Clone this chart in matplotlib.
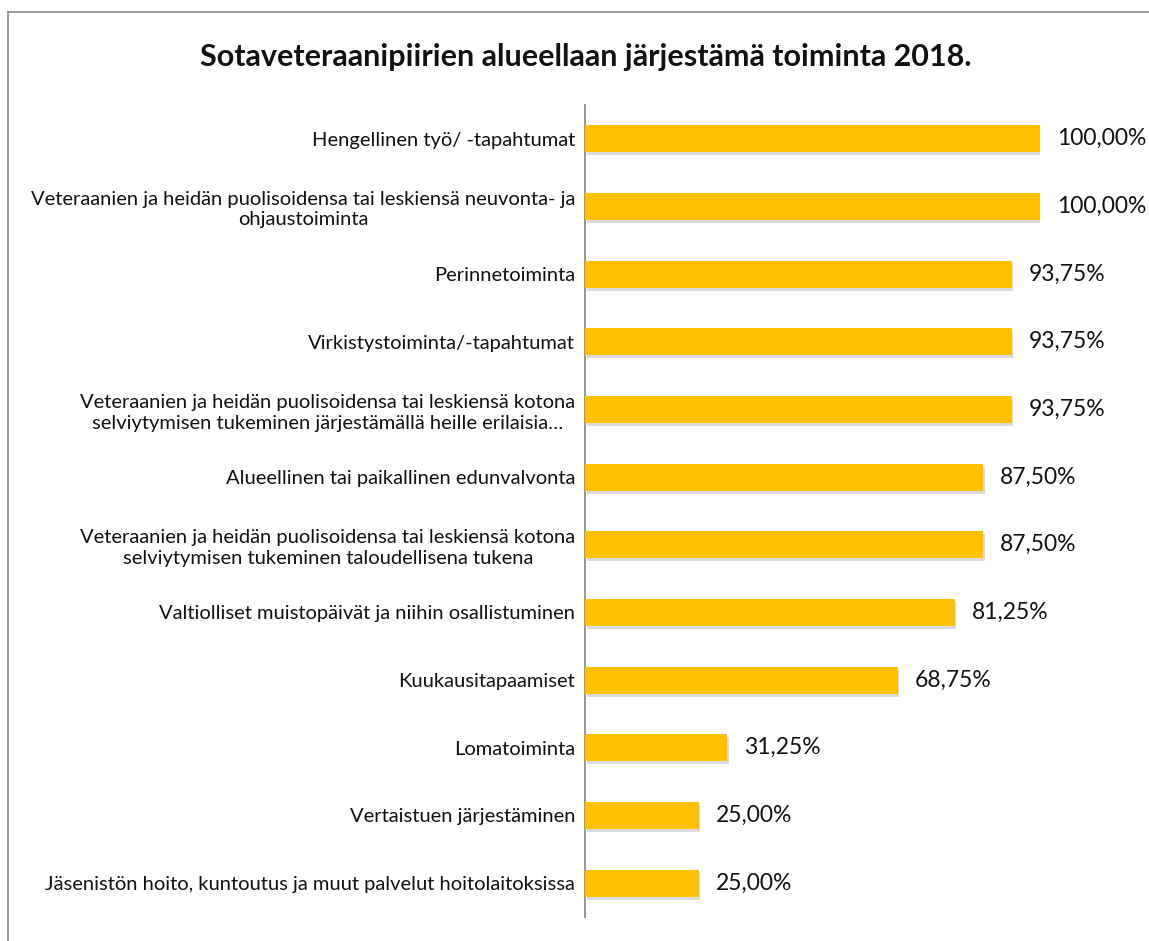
import matplotlib

matplotlib.use("Agg")
import matplotlib.pyplot as plt
import matplotlib.patheffects as pe
from matplotlib.lines import Line2D

plt.rcParams["font.family"] = ["Lato", "DejaVu Sans"]

CATEGORIES = [
    "Hengellinen työ/ -tapahtumat",
    "Veteraanien ja heidän puolisoidensa tai leskiensä neuvonta- ja\nohjaustoiminta",
    "Perinnetoiminta",
    "Virkistystoiminta/-tapahtumat",
    "Veteraanien ja heidän puolisoidensa tai leskiensä kotona\nselviytymisen tukeminen järjestämällä heille erilaisia…",
    "Alueellinen tai paikallinen edunvalvonta",
    "Veteraanien ja heidän puolisoidensa tai leskiensä kotona\nselviytymisen tukeminen taloudellisena tukena",
    "Valtiolliset muistopäivät ja niihin osallistuminen",
    "Kuukausitapaamiset",
    "Lomatoiminta",
    "Vertaistuen järjestäminen",
    "Jäsenistön hoito, kuntoutus ja muut palvelut hoitolaitoksissa",
]
VALUES = [100.00, 100.00, 93.75, 93.75, 93.75, 87.50, 87.50, 81.25, 68.75, 31.25, 25.00, 25.00]

TITLE = "Sotaveteraanipiirien alueellaan järjestämä toiminta 2018."
BAR_COLOR = "#FFC000"

W, H = 1149, 941
fig = plt.figure(figsize=(W / 100, H / 100), dpi=100)
ax = fig.add_axes([585 / W, 1 - 917 / H, 455 / W, 812 / H])

ypos = list(range(len(CATEGORIES)))
bars = ax.barh(ypos, VALUES, height=0.4, color=BAR_COLOR, zorder=3)
for b in bars:
    b.set_path_effects([pe.SimplePatchShadow(offset=(1.2, -2.2), shadow_rgbFace="#b0b0b0", alpha=0.45),
                        pe.Normal()])

for y, v in zip(ypos, VALUES):
    ax.text(v + 3.7, y, f"{v:.2f}%".replace(".", ","), va="center", ha="left",
            fontsize=16.5, color="#111111", clip_on=False)

ax.set_xlim(0, 100)
ax.set_ylim(len(CATEGORIES) - 0.5, -0.5)
ax.set_yticks(ypos)
ax.set_yticklabels(CATEGORIES, fontsize=14.5, multialignment="center", color="#111111",
                   linespacing=1.25)
ax.tick_params(axis="y", length=0, pad=7)
ax.set_xticks([])
for side in ("top", "right", "bottom"):
    ax.spines[side].set_visible(False)
ax.spines["left"].set_color("#8c8c8c")
ax.spines["left"].set_linewidth(1.3)

fig.text(586 / W, 1 - 57 / H, TITLE, ha="center", va="center",
         fontsize=22, fontweight="bold", color="#111111")

# chart area border (left and top edges visible)
fig.add_artist(Line2D([8 / W, 8 / W], [0, 1 - 12 / H], transform=fig.transFigure,
                      color="#8c8c8c", lw=1.2))
fig.add_artist(Line2D([8 / W, 1], [1 - 12 / H, 1 - 12 / H], transform=fig.transFigure,
                      color="#8c8c8c", lw=1.2))

fig.savefig("out.png", dpi=100)
